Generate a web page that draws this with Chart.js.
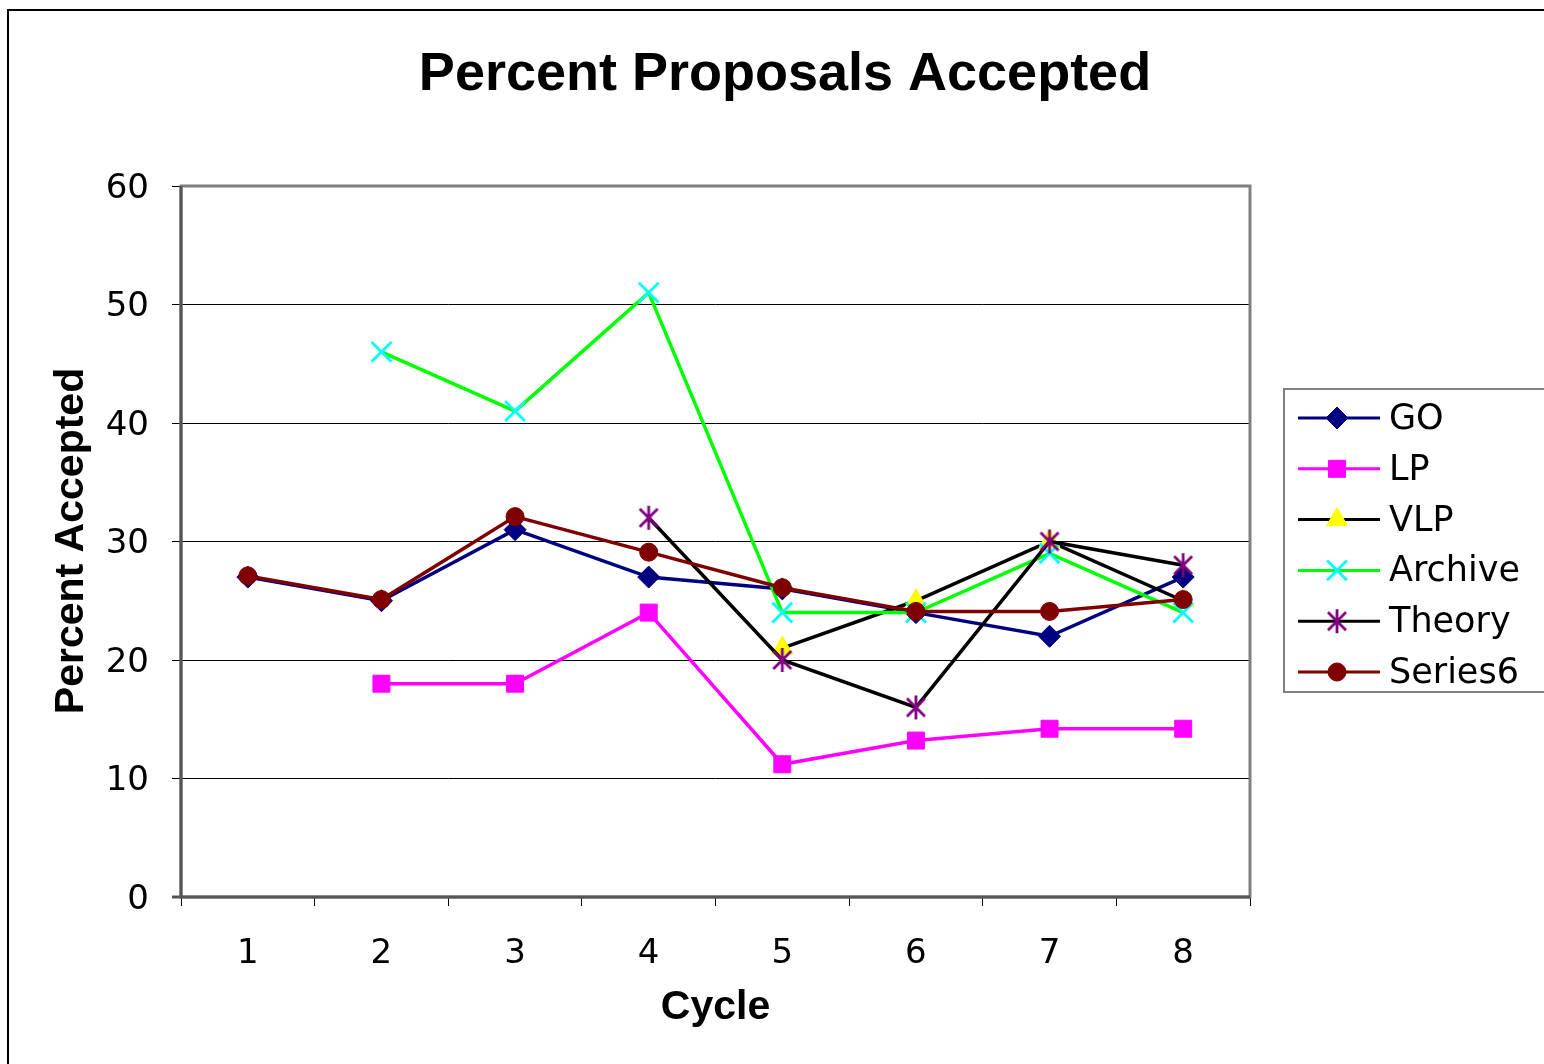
<!DOCTYPE html>
<html>
<head>
<meta charset="utf-8">
<script src="https://cdn.jsdelivr.net/npm/chart.js@4.4.1/dist/chart.umd.min.js"></script>
<style>
    html, body { margin: 0; padding: 0; background: #fff; }
    #wrap { width: 1544px; height: 1064px; position: relative; }
</style>
</head>
<body>
<div id="wrap"><canvas id="chart" width="1544" height="1064"></canvas></div>
<script>
/* Chart data */
const CYCLES = ["1", "2", "3", "4", "5", "6", "7", "8"];
const GO      = [27, 25, 31, 27, 26, 24, 22, 27];
const LP      = [null, 18, 18, 24, 11.2, 13.2, 14.2, 14.2];
const VLP     = [null, null, null, null, 21, 25, 30, 25];
const ARCHIVE = [null, 46, 41, 51, 24, 24, 29, 24];
const THEORY  = [null, null, null, 32, 20, 16, 30, 28];
const SERIES6 = [27.1, 25.1, 32.1, 29.1, 26.1, 24.1, 24.1, 25.1];
const Y_TICKS = [0, 10, 20, 30, 40, 50, 60];

const TITLE = "Percent Proposals Accepted";
const X_TITLE = "Cycle";
const Y_TITLE = "Percent Accepted";

/* Excel-like asterisk marker (vertical stroke + X) */
function makeStar(color) {
    const c = document.createElement("canvas");
    c.width = 26;
    c.height = 26;
    const g = c.getContext("2d");
    g.strokeStyle = color;
    g.lineWidth = 2.8;
    g.beginPath();
    g.moveTo(13, 1); g.lineTo(13, 25);
    g.moveTo(4, 4); g.lineTo(22, 22);
    g.moveTo(22, 4); g.lineTo(4, 22);
    g.stroke();
    return c;
}

const starMarker = makeStar("#800080");

function series(label, data, line, fill, stroke, style, radius, order) {
    return {
        label: label,
        data: data,
        borderColor: line,
        borderWidth: 3.5,
        pointStyle: style,
        pointRadius: radius,
        pointHoverRadius: radius,
        pointBackgroundColor: fill,
        pointBorderColor: stroke,
        pointBorderWidth: style === "crossRot" ? 2.8 : 1,
        tension: 0,
        order: order,
    };
}

/* Frame, titles and legend box drawn by hand to match the Excel look */
const decorPlugin = {
    id: "decor",
    beforeDraw(chart) {
        const ctx = chart.ctx;
        ctx.save();
        ctx.fillStyle = "#fff";
        ctx.fillRect(0, 0, chart.width, chart.height);
        ctx.strokeStyle = "#000";
        ctx.lineWidth = 2;
        ctx.strokeRect(8, 10, chart.width + 20, chart.height + 20);
        ctx.restore();
    },
    beforeDatasetsDraw(chart) {
        const ctx = chart.ctx;
        const a = chart.chartArea;
        ctx.save();
        ctx.strokeStyle = "#808080";
        ctx.lineWidth = 3;
        ctx.strokeRect(a.left, a.top, a.right - a.left, a.bottom - a.top);
        ctx.strokeStyle = "#555";
        ctx.beginPath();
        ctx.moveTo(a.left - 9, a.bottom);
        ctx.lineTo(a.right, a.bottom);
        ctx.moveTo(a.left, a.top);
        ctx.lineTo(a.left, a.bottom);
        ctx.stroke();
        ctx.restore();
    },
    afterDraw(chart) {
        const ctx = chart.ctx;
        const a = chart.chartArea;
        ctx.save();
        ctx.fillStyle = "#000";
        ctx.textAlign = "center";
        ctx.textBaseline = "middle";

        ctx.font = "bold 54px 'Liberation Sans', Arial, sans-serif";
        ctx.fillText(TITLE, 785, 75);

        ctx.font = "bold 41px 'Liberation Sans', Arial, sans-serif";
        ctx.fillText(X_TITLE, (a.left + a.right) / 2, 1008);

        ctx.translate(72, 541);
        ctx.rotate(-Math.PI / 2);
        ctx.fillText(Y_TITLE, 0, 0);
        ctx.restore();

        /* legend */
        ctx.save();
        ctx.strokeStyle = "#808080";
        ctx.lineWidth = 2;
        ctx.strokeRect(1284, 389, 300, 303);
        ctx.font = "35px 'DejaVu Sans', Verdana, sans-serif";
        ctx.textAlign = "left";
        ctx.textBaseline = "middle";
        chart.data.datasets.forEach((ds, i) => {
            const y = 418 + i * 50.8;
            ctx.strokeStyle = ds.borderColor;
            ctx.lineWidth = 3;
            ctx.beginPath();
            ctx.moveTo(1298, y);
            ctx.lineTo(1380, y);
            ctx.stroke();
            ctx.fillStyle = ds.pointBackgroundColor;
            ctx.strokeStyle = ds.pointBorderColor;
            ctx.lineWidth = ds.pointBorderWidth;
            Chart.helpers.drawPoint(ctx, {
                pointStyle: ds.pointStyle,
                radius: ds.pointRadius,
                borderWidth: ds.pointBorderWidth,
                rotation: 0,
            }, 1337, y);
            ctx.fillStyle = "#000";
            ctx.fillText(ds.label, 1389, y + 2);
        });
        ctx.restore();
    },
};

new Chart(document.getElementById("chart"), {
    type: "line",
    data: {
        labels: CYCLES,
        datasets: [
            series("GO", GO, "#000080", "#000080", "#000080", "rectRot", 11, 5),
            series("LP", LP, "#FF00FF", "#FF00FF", "#FF00FF", "rect", 12, 4),
            series("VLP", VLP, "#000000", "#FFFF00", "#FFFF00", "triangle", 12, 3),
            series("Archive", ARCHIVE, "#00FF00", "#00FFFF", "#00FFFF", "crossRot", 14, 2),
            series("Theory", THEORY, "#000000", "#800080", "#800080", starMarker, 12, 1),
            series("Series6", SERIES6, "#800000", "#800000", "#800000", "circle", 9, 0),
        ],
    },
    plugins: [decorPlugin],
    options: {
        responsive: false,
        animation: false,
        devicePixelRatio: 1,
        layout: {
            padding: { top: 186, right: 294, bottom: 0, left: 8 },
        },
        plugins: {
            legend: { display: false },
            title: { display: false },
            tooltip: { enabled: false },
        },
        scales: {
            x: {
                offset: true,
                grid: {
                    offset: true,
                    drawOnChartArea: false,
                    drawTicks: true,
                    tickLength: 9,
                    tickColor: "#000",
                },
                border: { display: false },
                ticks: {
                    color: "#000",
                    padding: 28,
                    font: { family: "'DejaVu Sans', Verdana, sans-serif", size: 34 },
                },
                afterFit(scale) { scale.height = 1064 - 897; },
            },
            y: {
                min: 0,
                max: 60,
                afterBuildTicks(scale) {
                    scale.ticks = Y_TICKS.map(v => ({ value: v }));
                },
                grid: {
                    color: "#000",
                    lineWidth: 1,
                    drawTicks: true,
                    tickLength: 9,
                    tickColor: "#000",
                },
                border: { display: false },
                ticks: {
                    color: "#000",
                    padding: 23,
                    labelOffset: 3,
                    font: { family: "'DejaVu Sans', Verdana, sans-serif", size: 34 },
                },
                afterFit(scale) { scale.width = 181 - 8; },
            },
        },
    },
});
</script>
</body>
</html>
